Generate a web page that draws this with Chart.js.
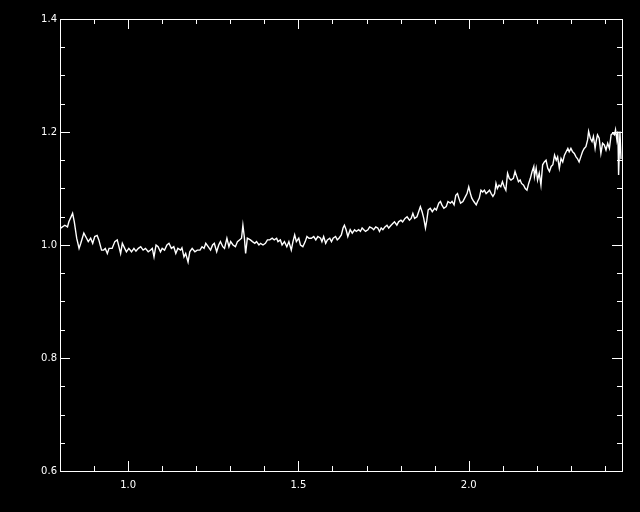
<!DOCTYPE html>
<html>
<head>
<meta charset="utf-8">
<script src="https://cdn.jsdelivr.net/npm/chart.js@4/dist/chart.umd.min.js"></script>
<style>
  html, body { margin: 0; padding: 0; background: #000; }
  canvas { display: block; }
</style>
</head>
<body>
<canvas id="spec" width="640" height="512"></canvas>
<script>
// ---- data ----
const wave = [
  0.802, 0.814, 0.822, 0.826, 0.837, 0.842, 0.849, 0.856, 0.861, 0.870,
  0.878, 0.883, 0.890, 0.896, 0.902, 0.909, 0.914, 0.922, 0.928, 0.933,
  0.939, 0.944, 0.953, 0.961, 0.968, 0.973, 0.978, 0.983, 0.990, 0.995,
  1.002, 1.010, 1.017, 1.023, 1.030, 1.037, 1.044, 1.051, 1.059, 1.066,
  1.071, 1.076, 1.082, 1.088, 1.095, 1.100, 1.107, 1.114, 1.120, 1.127,
  1.134, 1.140, 1.146, 1.154, 1.158, 1.164, 1.169, 1.176, 1.181, 1.188,
  1.196, 1.203, 1.211, 1.217, 1.223, 1.228, 1.235, 1.242, 1.248, 1.253,
  1.260, 1.266, 1.271, 1.278, 1.283, 1.290, 1.296, 1.301, 1.308, 1.315,
  1.321, 1.327, 1.333, 1.337, 1.341, 1.345, 1.350, 1.359, 1.365, 1.372,
  1.377, 1.384, 1.389, 1.396, 1.403, 1.409, 1.416, 1.423, 1.429, 1.436,
  1.440, 1.447, 1.452, 1.459, 1.466, 1.472, 1.479, 1.484, 1.489, 1.494,
  1.501, 1.506, 1.513, 1.520, 1.525, 1.531, 1.538, 1.545, 1.551, 1.557,
  1.565, 1.569, 1.574, 1.580, 1.585, 1.592, 1.597, 1.602, 1.609, 1.614,
  1.619, 1.626, 1.631, 1.635, 1.640, 1.645, 1.652, 1.658, 1.665, 1.670,
  1.677, 1.682, 1.687, 1.692, 1.697, 1.704, 1.709, 1.716, 1.721, 1.727,
  1.733, 1.738, 1.743, 1.748, 1.754, 1.760, 1.765, 1.772, 1.777, 1.782,
  1.789, 1.794, 1.801, 1.806, 1.813, 1.819, 1.826, 1.831, 1.836, 1.841,
  1.848, 1.853, 1.858, 1.863, 1.868, 1.873, 1.877, 1.881, 1.887, 1.893,
  1.900, 1.905, 1.912, 1.917, 1.921, 1.927, 1.934, 1.939, 1.946, 1.951,
  1.957, 1.962, 1.967, 1.971, 1.976, 1.983, 1.988, 1.995, 2.000, 2.005,
  2.009, 2.015, 2.022, 2.026, 2.031, 2.036, 2.041, 2.046, 2.051, 2.056,
  2.061, 2.066, 2.071, 2.076, 2.080, 2.084, 2.089, 2.094, 2.099, 2.104,
  2.109, 2.114, 2.119, 2.124, 2.131, 2.136, 2.141, 2.146, 2.151, 2.155,
  2.161, 2.166, 2.171, 2.176, 2.181, 2.186, 2.191, 2.193, 2.198, 2.202,
  2.207, 2.212, 2.217, 2.222, 2.227, 2.232, 2.237, 2.242, 2.247, 2.252,
  2.257, 2.261, 2.266, 2.271, 2.276, 2.281, 2.286, 2.291, 2.295, 2.300,
  2.305, 2.310, 2.315, 2.319, 2.324, 2.329, 2.334, 2.339, 2.344, 2.349,
  2.352, 2.357, 2.362, 2.366, 2.371, 2.374, 2.378, 2.383, 2.388, 2.393,
  2.398, 2.403, 2.408, 2.413, 2.418, 2.423, 2.428, 2.431, 2.435, 2.438,
  2.440, 2.444, 2.447
];
const flux = [
  1.030, 1.035, 1.032, 1.041, 1.056, 1.041, 1.012, 0.994, 1.003, 1.021,
  1.012, 1.006, 1.012, 1.003, 1.015, 1.017, 1.009, 0.991, 0.991, 0.994,
  0.985, 0.994, 0.994, 1.006, 1.009, 0.997, 0.985, 1.003, 0.994, 0.988,
  0.994, 0.988, 0.994, 0.989, 0.994, 0.997, 0.991, 0.994, 0.988, 0.991,
  0.994, 0.979, 1.000, 0.997, 0.988, 0.994, 0.991, 1.000, 1.003, 0.994,
  0.997, 0.985, 0.994, 0.991, 0.995, 0.979, 0.985, 0.970, 0.988, 0.994,
  0.988, 0.991, 0.991, 0.997, 0.994, 1.003, 0.997, 0.991, 1.000, 1.003,
  0.988, 1.000, 1.006, 0.997, 0.994, 1.012, 0.997, 1.006, 1.000, 0.997,
  1.006, 1.009, 1.012, 1.035, 1.015, 0.985, 1.012, 1.009, 1.006, 1.003,
  1.006, 1.000, 1.003, 1.000, 1.003, 1.009, 1.009, 1.012, 1.009, 1.012,
  1.006, 1.009, 1.000, 1.006, 0.997, 1.006, 0.991, 1.006, 1.018, 1.006,
  1.012, 1.000, 0.997, 1.006, 1.015, 1.012, 1.012, 1.015, 1.009, 1.015,
  1.012, 1.006, 1.015, 1.003, 1.009, 1.012, 1.006, 1.012, 1.015, 1.009,
  1.012, 1.018, 1.030, 1.035, 1.027, 1.015, 1.027, 1.021, 1.027, 1.024,
  1.027, 1.024, 1.030, 1.027, 1.024, 1.027, 1.032, 1.030, 1.027, 1.032,
  1.030, 1.024, 1.030, 1.027, 1.032, 1.035, 1.030, 1.035, 1.038, 1.041,
  1.035, 1.041, 1.044, 1.041, 1.047, 1.050, 1.044, 1.047, 1.056, 1.047,
  1.050, 1.059, 1.068, 1.059, 1.047, 1.030, 1.044, 1.062, 1.065, 1.059,
  1.065, 1.062, 1.074, 1.077, 1.071, 1.065, 1.068, 1.077, 1.074, 1.077,
  1.071, 1.088, 1.091, 1.083, 1.074, 1.077, 1.083, 1.091, 1.103, 1.091,
  1.083, 1.077, 1.071, 1.077, 1.083, 1.097, 1.094, 1.097, 1.091, 1.094,
  1.097, 1.091, 1.086, 1.091, 1.109, 1.100, 1.106, 1.103, 1.112, 1.103,
  1.097, 1.127, 1.118, 1.115, 1.118, 1.130, 1.121, 1.112, 1.115, 1.109,
  1.106, 1.100, 1.097, 1.109, 1.118, 1.130, 1.139, 1.121, 1.136, 1.115,
  1.127, 1.106, 1.142, 1.147, 1.150, 1.136, 1.130, 1.139, 1.142, 1.159,
  1.150, 1.156, 1.136, 1.153, 1.147, 1.159, 1.165, 1.171, 1.165, 1.171,
  1.165, 1.162, 1.156, 1.153, 1.147, 1.156, 1.165, 1.171, 1.174, 1.186,
  1.201, 1.189, 1.183, 1.192, 1.171, 1.183, 1.195, 1.189, 1.162, 1.180,
  1.177, 1.168, 1.180, 1.171, 1.195, 1.198, 1.195, 1.204, 1.186, 1.201,
  1.124, 1.201, 1.152
];

// axis ticks
const xTicks = [1.0, 1.5, 2.0];
const xMinor = [0.9, 1.0, 1.1, 1.2, 1.3, 1.4, 1.5, 1.6, 1.7, 1.8, 1.9, 2.0, 2.1, 2.2, 2.3, 2.4];
const yTicks = [0.6, 0.8, 1.0, 1.2, 1.4];
const yMinor = [0.65, 0.7, 0.75, 0.8, 0.85, 0.9, 0.95, 1.0, 1.05, 1.1, 1.15, 1.2, 1.25, 1.3, 1.35];

// box + inward ticks on all four sides, idl style
const frame = {
  id: 'frame',
  afterDatasetsDraw(chart) {
    const { ctx, chartArea: a, scales: { x, y } } = chart;
    ctx.save();
    ctx.strokeStyle = '#fff';
    ctx.lineWidth = 1;
    ctx.strokeRect(a.left + 0.5, a.top + 0.5, a.right - a.left, a.bottom - a.top);
    ctx.beginPath();
    xMinor.forEach(v => {
      const px = Math.round(x.getPixelForValue(v)) + 0.5;
      const len = xTicks.includes(v) ? 10 : 5;
      ctx.moveTo(px, a.bottom);
      ctx.lineTo(px, a.bottom - len);
      ctx.moveTo(px, a.top);
      ctx.lineTo(px, a.top + len);
    });
    yMinor.forEach(v => {
      const py = Math.round(y.getPixelForValue(v)) + 0.5;
      const len = yTicks.includes(v) ? 10 : 5;
      ctx.moveTo(a.left, py);
      ctx.lineTo(a.left + len, py);
      ctx.moveTo(a.right, py);
      ctx.lineTo(a.right - len, py);
    });
    ctx.stroke();
    ctx.restore();
  }
};

Chart.defaults.font.family = "'DejaVu Sans', sans-serif";
Chart.defaults.font.size = 10;
Chart.defaults.color = '#fff';

new Chart(document.getElementById('spec'), {
  type: 'line',
  data: {
    datasets: [{
      data: wave.map((w, i) => ({ x: w, y: flux[i] })),
      borderColor: '#fff',
      borderWidth: 1.4,
      pointRadius: 0,
      tension: 0,
      fill: false
    }]
  },
  options: {
    responsive: false,
    animation: false,
    layout: { padding: { top: 19, right: 18, left: 0, bottom: 0 } },
    plugins: { legend: { display: false }, tooltip: { enabled: false } },
    scales: {
      x: {
        type: 'linear',
        min: 0.8,
        max: 2.45,
        grid: { display: false, drawTicks: false },
        border: { display: false },
        ticks: { color: '#fff', padding: 8, maxRotation: 0, callback: v => v.toFixed(1) },
        afterBuildTicks: s => { s.ticks = xTicks.map(v => ({ value: v })); },
        afterFit: s => { s.height = 41; }
      },
      y: {
        min: 0.6,
        max: 1.4,
        grid: { display: false, drawTicks: false },
        border: { display: false },
        ticks: { color: '#fff', padding: 3, callback: v => v.toFixed(1) },
        afterBuildTicks: s => { s.ticks = yTicks.map(v => ({ value: v })); },
        afterFit: s => { s.width = 60; }
      }
    }
  },
  plugins: [frame]
});
</script>
</body>
</html>
